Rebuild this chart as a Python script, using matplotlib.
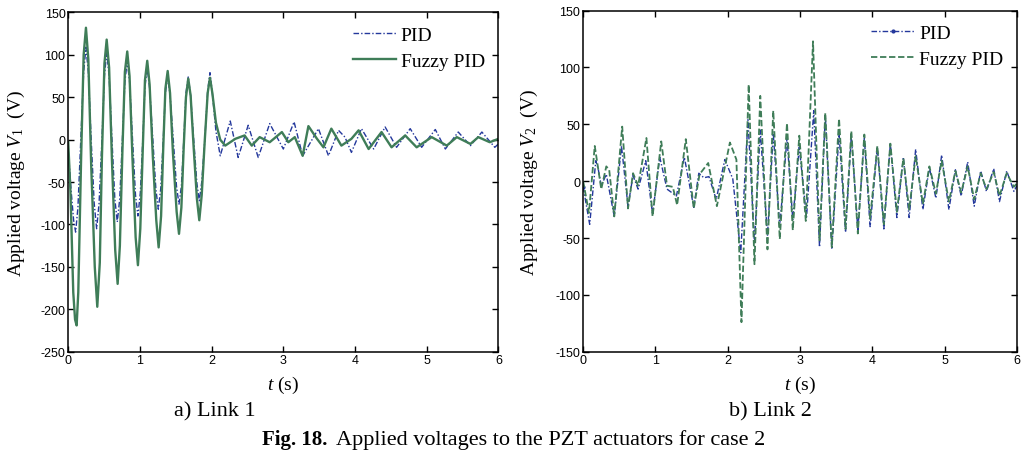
import matplotlib
matplotlib.use("Agg")
import matplotlib.pyplot as plt

# link 1 (left panel), PID controller
t1_pid = [0.0, 0.04, 0.075, 0.103, 0.135, 0.175, 0.215, 0.247, 0.28, 0.32, 0.362, 0.396, 0.43, 0.47, 0.505,
          0.536, 0.57, 0.61, 0.65, 0.684, 0.718, 0.755, 0.79, 0.823, 0.856, 0.897, 0.938, 0.972, 1.005, 1.04,
          1.07, 1.102, 1.136, 1.18, 1.222, 1.256, 1.29, 1.325, 1.355, 1.387, 1.42, 1.465, 1.51, 1.545, 1.578,
          1.612, 1.642, 1.674, 1.707, 1.75, 1.795, 1.828, 1.862, 1.905, 1.945, 1.977, 2.01, 2.06,
          2.12, 2.26, 2.37, 2.51, 2.65, 2.81, 3.0, 3.15, 3.27, 3.49, 3.63, 3.77, 3.86, 3.95, 4.09, 4.26, 4.42,
          4.58, 4.77, 4.93, 5.12, 5.26, 5.44, 5.61, 5.77, 5.95, 6.0]
v1_pid = [-12, -60, -95, -109, -80, 0, 80, 109, 80, 0, -75, -105, -75, 0, 75,
          103, 75, 0, -70, -97, -70, 0, 68, 93, 68, 0, -65, -90, -63, 0,
          62, 85, 60, 0, -58, -82, -58, 0, 55, 75, 53, 0, -55, -76, -55,
          0, 55, 74, 52, 0, -52, -72, -50, 0, 58, 79, 55, 10,
          -19, 22, -21, 17, -21, 19, -11, 21, -19, 13, -19, 11, 3, -15, 13, -11, 15,
          -9, 13, -9, 12, -11, 9, -7, 9, -9, -5]

# link 1, fuzzy PID controller
t1_fz = [0.0, 0.03, 0.07, 0.095, 0.117, 0.14, 0.18, 0.215, 0.247, 0.28, 0.32, 0.37, 0.405, 0.44, 0.47,
         0.505, 0.536, 0.57, 0.61, 0.655, 0.689, 0.72, 0.755, 0.79, 0.823, 0.855, 0.895, 0.94, 0.972, 1.005,
         1.04, 1.07, 1.102, 1.135, 1.18, 1.228, 1.261, 1.295, 1.325, 1.355, 1.387, 1.42, 1.46, 1.512, 1.545,
         1.578, 1.61, 1.642, 1.674, 1.707, 1.75, 1.795, 1.828, 1.862, 1.905, 1.945, 1.977, 2.01, 2.06, 2.12,
         2.19, 2.33, 2.46, 2.56, 2.67, 2.81, 2.98, 3.07, 3.16, 3.27, 3.35, 3.47, 3.56, 3.67, 3.81, 3.95,
         4.05, 4.19, 4.37, 4.51, 4.70, 4.86, 5.07, 5.28, 5.42, 5.61, 5.72, 5.88, 6.0]
v1_fz = [-3, -60, -180, -212, -219, -180, -20, 100, 132, 95, -30, -150, -197, -145, -20,
         90, 118, 85, -25, -130, -170, -125, -15, 80, 104, 75, -20, -115, -148, -105,
         -10, 70, 93, 65, -20, -95, -127, -90, -10, 60, 81, 55, -15, -85, -111,
         -80, -10, 50, 72, 52, -10, -70, -95, -65, 0, 55, 73, 55, 20, 0,
         -7, 1, 5, -7, 3, -3, 9, -3, 3, -19, 16, 1, -9, 13, -7, 1,
         11, -11, 9, -9, 5, -9, 3, -7, 3, -5, 3, -3, 1]

# link 2 (right panel), PID controller
t2_pid = [0.0, 0.09, 0.175, 0.21, 0.25, 0.32, 0.43, 0.53, 0.62, 0.69, 0.76, 0.866, 0.96, 1.06, 1.16, 1.29,
          1.40, 1.53, 1.60, 1.67, 1.74, 1.84, 1.96, 2.07, 2.18, 2.28, 2.37, 2.45, 2.55, 2.63, 2.72, 2.82,
          2.90, 2.99, 3.09, 3.19, 3.27, 3.35, 3.44, 3.54, 3.63, 3.71, 3.80, 3.89, 3.97, 4.07, 4.16, 4.25,
          4.34, 4.43, 4.51, 4.60, 4.70, 4.79, 4.88, 4.96, 5.06, 5.15, 5.23, 5.32, 5.41, 5.50, 5.58, 5.68,
          5.76, 5.86, 5.96, 6.0]
v2_pid = [-5, -38, 18, 10, -4, 6, -31, 31, -22, 5, -7, 18, -29, 21, -7, -13,
          21, -23, 7, 3, 4, -16, 19, 2, -63, 54, -55, 45, -48, 42, -40, 38,
          -34, 30, -32, 62, -58, 58, -60, 42, -45, 40, -43, 38, -40, 30, -42, 33,
          -32, 21, -32, 28, -25, 12, -15, 23, -25, 10, -13, 17, -22, 9, -9, 11,
          -18, 9, -9, -4]

# link 2, fuzzy PID controller
t2_fz = [0.0, 0.08, 0.16, 0.21, 0.25, 0.32, 0.36, 0.43, 0.54, 0.62, 0.69, 0.76, 0.875, 0.96, 1.08, 1.16,
         1.24, 1.30, 1.42, 1.53, 1.61, 1.73, 1.85, 2.03, 2.12, 2.19, 2.29, 2.37, 2.45, 2.55, 2.63, 2.72,
         2.82, 2.90, 2.99, 3.08, 3.18, 3.27, 3.35, 3.44, 3.54, 3.63, 3.71, 3.80, 3.89, 3.97, 4.07, 4.16,
         4.25, 4.34, 4.43, 4.51, 4.60, 4.70, 4.79, 4.88, 4.96, 5.06, 5.15, 5.23, 5.32, 5.41, 5.50, 5.58,
         5.68, 5.76, 5.86, 5.96, 6.0]
v2_fz = [0, -28, 31, 10, -7, 13, 10, -31, 48, -24, 7, -4, 38, -31, 35, -4,
         -5, -21, 37, -24, 6, 16, -22, 34, 19, -124, 85, -73, 75, -60, 62, -51,
         51, -43, 40, -35, 123, -52, 60, -58, 55, -42, 44, -46, 41, -33, 31, -38,
         33, -27, 20, -25, 22, -20, 13, -11, 18, -18, 9, -10, 13, -16, 7, -7,
         8, -13, 7, -5, -2]

blue = "#24389c"
green = "#3f7d58"
serif = ["Liberation Serif", "DejaVu Serif"]
narrow = ["Liberation Sans Narrow", "Liberation Sans", "DejaVu Sans"]

plt.rcParams["mathtext.fontset"] = "custom"
plt.rcParams["mathtext.rm"] = "Liberation Serif"
plt.rcParams["mathtext.it"] = "Liberation Serif:italic"
plt.rcParams["axes.unicode_minus"] = False

fig = plt.figure(figsize=(10.34, 4.56), dpi=100)
ax1 = fig.add_axes([0.066, 0.2265, 0.416, 0.744])
ax2 = fig.add_axes([0.564, 0.2265, 0.4194, 0.748])

ax1.plot(t1_pid, v1_pid, color=blue, lw=1.0, dashes=(4, 1.5, 1, 1.5), label="PID")
ax1.plot(t1_fz, v1_fz, color=green, lw=1.7, label="Fuzzy PID")
ax1.set_ylim(-250, 150)
ax1.set_yticks(range(-250, 151, 50))
ax1.set_ylabel(r"Applied voltage $V_{1}$  (V)", fontsize=14, family=serif, labelpad=10)

ax2.plot(t2_pid, v2_pid, color=blue, lw=1.0, dashes=(4, 1.5, 1, 1.5),
         marker=".", markersize=4, markevery=1000, label="PID")
ax2.plot(t2_fz, v2_fz, color=green, lw=1.3, dashes=(3.5, 1.5), label="Fuzzy PID")
ax2.set_ylim(-150, 150)
ax2.set_yticks(range(-150, 151, 50))
ax2.set_ylabel(r"Applied voltage $V_{2}$  (V)", fontsize=14, family=serif, labelpad=11)

for ax in (ax1, ax2):
    ax.set_xlim(0, 6)
    ax.set_xticks(range(0, 7))
    ax.tick_params(direction="in", length=4, width=1, top=True, right=True, labelsize=9, pad=2)
    for lab in ax.get_xticklabels() + ax.get_yticklabels():
        lab.set_family(narrow)
    for sp in ax.spines.values():
        sp.set_linewidth(1.1)
    ax.set_xlabel(r"$t$ (s)", fontsize=14, family=serif, labelpad=5)
    ax.legend(loc="upper right", frameon=False, prop={"family": serif, "size": 14},
              handlelength=2.2, handletextpad=0.25, labelspacing=0.45, borderaxespad=0.3)

fig.text(0.208, 0.097, "a) Link 1", ha="center", va="center", fontsize=16, family=serif)
fig.text(0.745, 0.097, "b) Link 2", ha="center", va="center", fontsize=16, family=serif)
fig.text(0.2535, 0.035, "Fig. 18.", ha="left", va="center", fontsize=15, family=serif, weight="bold")
fig.text(0.3245, 0.035, "Applied voltages to the PZT actuators for case 2", ha="left", va="center",
         fontsize=16, family=serif)

fig.savefig("out.png", dpi=100)
